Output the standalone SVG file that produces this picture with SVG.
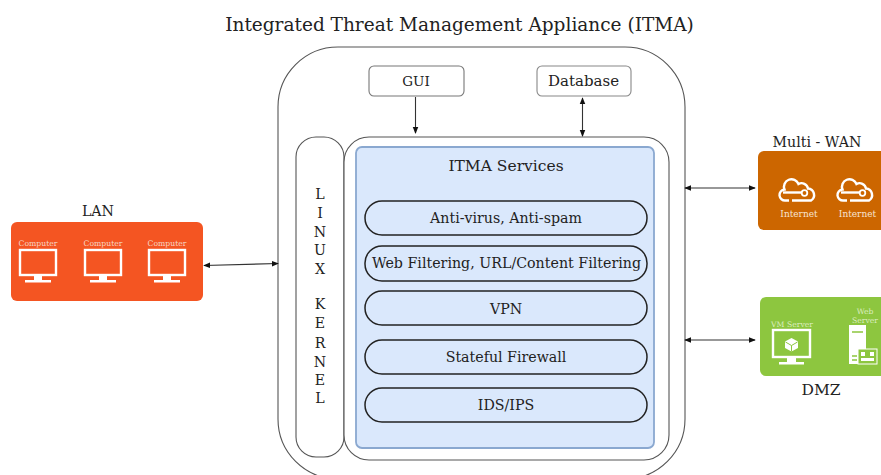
<svg xmlns="http://www.w3.org/2000/svg" width="881" height="475" viewBox="0 0 881 475">
<style>
text{font-family:"DejaVu Serif","Liberation Serif",serif;fill:#222;text-anchor:middle}
.t{font-size:14.2px}
.box{fill:#fff;stroke:#555;stroke-width:1.1}
.pill{fill:#dae8fc;stroke:#222;stroke-width:1.5}
.conn{fill:none;stroke:#333;stroke-width:1.1;marker-start:url(#a);marker-end:url(#a)}
.w{fill:#fff;stroke:none}
.wl{fill:none;stroke:#fff;stroke-width:2.400}
.ic{font-size:7.700px;fill:#f6d5c5}
.in{font-size:9px;fill:#f7e3d0}
.gr{font-size:7.700px;fill:#dcedc0}
</style>
<defs>
<marker id="a" viewBox="0 0 8 8" refX="7" refY="4" markerWidth="7" markerHeight="7" orient="auto-start-reverse" markerUnits="userSpaceOnUse"><path d="M0 .8L8 4L0 7.2z" fill="#111"/></marker>
<g id="pc"><rect x="1" y="1" width="36" height="25" class="wl"/><path class="w" d="M15 27h8v4h9v2.500H6V31h9z"/></g>
<g id="cloud"><path d="M9 23.500H5.500a5.500 5.500 0 0 1-1-11a7.500 7.500 0 0 1 14-5.500a6.500 6.500 0 0 1 9.500 4.500a6.500 6.500 0 0 1 3 12H12" fill="none" stroke="#fff" stroke-width="2.400"/><path d="M3 15.500h19" stroke="#fff" stroke-width="2.400"/><circle cx="24.500" cy="16" r="2.800" fill="#cc6600" stroke="#fff" stroke-width="1.800"/></g>
</defs>
<text x="459.500" y="31" font-size="18.500" id="title">Integrated Threat Management Appliance (ITMA)</text>
<g id="itma"><rect x="278" y="47" width="407" height="432" rx="60" class="box"/></g>
<g id="gui"><rect x="369" y="66" width="95" height="30" rx="5" class="box" style="stroke:#777"/><text x="416" y="86" font-size="13.500">GUI</text></g>
<g id="database"><rect x="537" y="66" width="94" height="30" rx="5" class="box" style="stroke:#888"/><text x="583.500" y="86" font-size="15">Database</text></g>
<g id="kernel"><rect x="296" y="137" width="48" height="320" rx="20" class="box"/>
<text class="t" x="320" y="199">L</text><text class="t" x="320" y="218">I</text><text class="t" x="320" y="237">N</text><text class="t" x="320" y="255">U</text><text class="t" x="320" y="274">X</text><text class="t" x="320" y="309">K</text><text class="t" x="320" y="328">E</text><text class="t" x="320" y="348">R</text><text class="t" x="320" y="367">N</text><text class="t" x="320" y="385">E</text><text class="t" x="320" y="403">L</text></g>
<g id="container"><rect x="344" y="137" width="325" height="323" rx="25" class="box"/></g>
<g id="services"><rect x="356" y="147" width="298" height="301" rx="6" fill="#dae8fc" stroke="#8aa8d0" stroke-width="1.800"/><text x="506" y="171" font-size="15.500">ITMA Services</text></g>
<g id="s1"><rect class="pill" x="365" y="201" width="282" height="34" rx="17"/><text class="t" x="506" y="223">Anti-virus, Anti-spam</text></g>
<g id="s2"><rect class="pill" x="365" y="246" width="282" height="35" rx="17"/><text class="t" x="506.500" y="268" textLength="269">Web Filtering, URL/Content Filtering</text></g>
<g id="s3"><rect class="pill" x="365" y="291" width="282" height="34" rx="17"/><text class="t" x="506" y="314">VPN</text></g>
<g id="s4"><rect class="pill" x="365" y="340" width="282" height="34" rx="17"/><text class="t" x="506" y="362">Stateful Firewall</text></g>
<g id="s5"><rect class="pill" x="365" y="388" width="282" height="34" rx="17"/><text class="t" x="506" y="410">IDS/IPS</text></g>
<g id="lan"><text class="t" x="98" y="216">LAN</text><rect x="11" y="222" width="192" height="79" rx="6" fill="#f45522"/>
<text class="ic" x="38" y="246">Computer</text><text class="ic" x="103" y="246">Computer</text><text class="ic" x="167" y="246">Computer</text>
<use href="#pc" x="19" y="249"/><use href="#pc" x="84" y="249"/><use href="#pc" x="148" y="249"/></g>
<g id="wan"><text class="t" x="817" y="147">Multi - WAN</text><rect x="758" y="151" width="130" height="79" rx="6" fill="#cc6600"/>
<use href="#cloud" x="780" y="177"/><use href="#cloud" x="838" y="177"/>
<text class="in" x="799" y="217">Internet</text><text class="in" x="857.500" y="217">Internet</text></g>
<g id="dmz"><rect x="760" y="297" width="130" height="79" rx="6" fill="#8dc63f"/>
<text class="gr" x="792" y="327">VM Server</text><text class="gr" x="865" y="314">Web</text><text class="gr" x="865" y="323">Server</text>
<rect x="773" y="330" width="37" height="27" fill="none" stroke="#fff" stroke-width="2.400"/><path class="w" d="M787 358h9v4h8v2.500H779V362h8z"/><path class="w" d="M791.500 338l6.500 3.500v6.500l-6.500 3.500l-6.500-3.500v-6.500z"/><path d="M785.500 342l6 3.500l6-3.500M791.500 345.500v6" fill="none" stroke="#8dc63f" stroke-width="1"/>
<rect x="849" y="325" width="17" height="39" fill="#fff"/><path d="M852 332h11M852 356h5M852 360h5" stroke="#8dc63f" stroke-width="1.300"/><rect x="858" y="349" width="19" height="15" fill="#8dc63f" stroke="#fff"/><path d="M861 352h4v4h-4zM870 352h4v4h-4zM861 358h13v3h-13z" fill="#fff"/>
<text x="821" y="395" font-size="15.500">DMZ</text></g>
<g id="connectors">
<path class="conn" d="M415.500 97V133" style="marker-start:none"/>
<path class="conn" d="M582.500 98V136"/>
<path class="conn" d="M204 265.500L278 263.500"/>
<path class="conn" d="M685 188H755"/>
<path class="conn" d="M685 340H755"/>
</g>
</svg>
